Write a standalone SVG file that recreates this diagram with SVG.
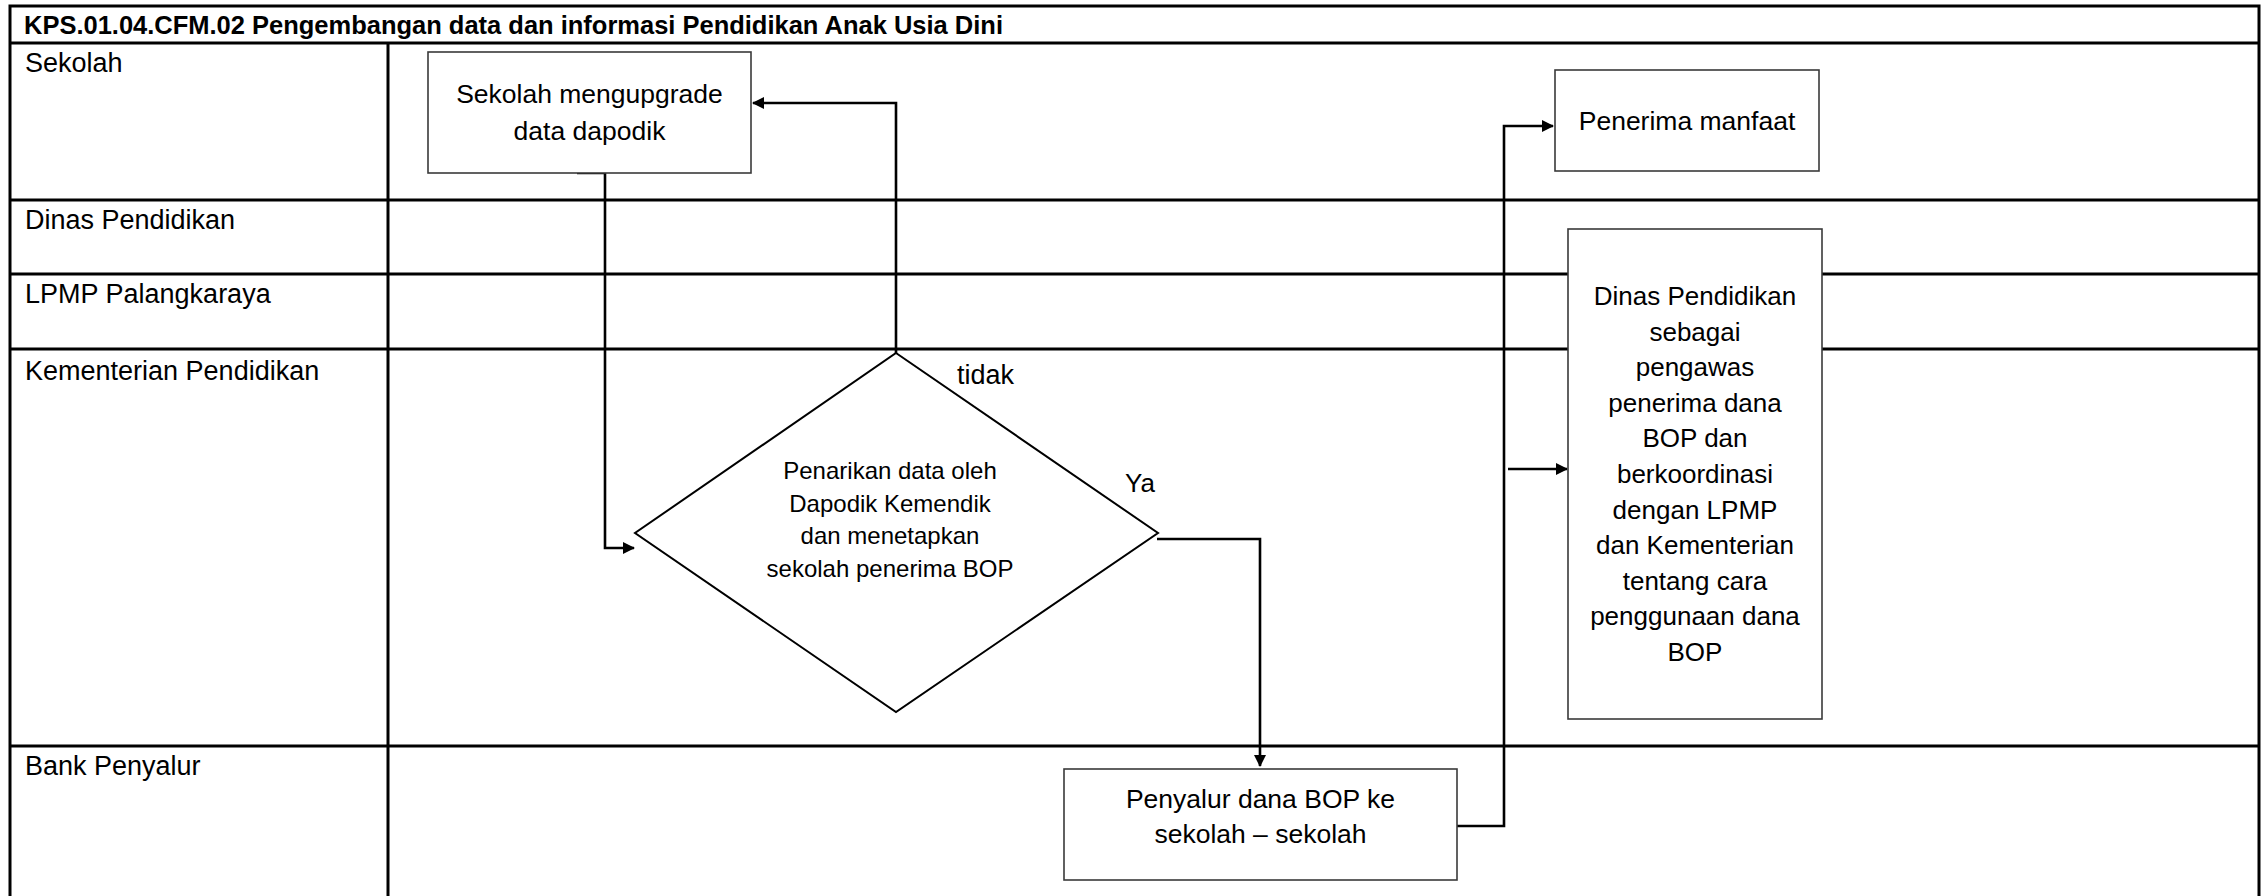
<svg xmlns="http://www.w3.org/2000/svg" width="2264" height="896" viewBox="0 0 2264 896">
<defs>
<style>
.lane{stroke:#000;stroke-width:3;fill:none}
.box{fill:#fff;stroke:#3a3a3a;stroke-width:1.6}
.t{font-family:"Liberation Sans",Arial,sans-serif;fill:#000}
.lbl{font-size:27px}
.nt{font-size:26.5px;text-anchor:middle}
.conn{stroke:#000;stroke-width:2.6;fill:none}
</style>
<marker id="arr" markerWidth="12" markerHeight="12" refX="11" refY="6" orient="auto" markerUnits="userSpaceOnUse">
<path d="M0,0 L12,6 L0,12 z" fill="#000"/>
</marker>
</defs>
<rect width="2264" height="896" fill="#fff"/>
<g id="lanes">
<rect class="lane" x="10" y="6" width="2249" height="900"/>
<line class="lane" x1="10" y1="43" x2="2259" y2="43"/>
<line class="lane" x1="388" y1="43" x2="388" y2="896"/>
<line class="lane" x1="10" y1="200" x2="2259" y2="200"/>
<line class="lane" x1="10" y1="274" x2="2259" y2="274"/>
<line class="lane" x1="10" y1="349" x2="2259" y2="349"/>
<line class="lane" x1="10" y1="746" x2="2259" y2="746"/>
<text class="t" x="24" y="34" font-size="26" font-weight="bold" textLength="979" lengthAdjust="spacingAndGlyphs">KPS.01.04.CFM.02 Pengembangan data dan informasi Pendidikan Anak Usia Dini</text>
<text class="t lbl" x="25" y="72">Sekolah</text>
<text class="t lbl" x="25" y="229">Dinas Pendidikan</text>
<text class="t lbl" x="25" y="303">LPMP Palangkaraya</text>
<text class="t lbl" x="25" y="380">Kementerian Pendidikan</text>
<text class="t lbl" x="25" y="775">Bank Penyalur</text>
</g>
<g id="connectors">
<path class="conn" d="M577,173 H605 V548 H634" marker-end="url(#arr)"/>
<path class="conn" d="M896,353 V103 H753" marker-end="url(#arr)"/>
<path class="conn" d="M1157,539 H1260 V766" marker-end="url(#arr)"/>
<path class="conn" d="M1457,826 H1504 V126 H1553" marker-end="url(#arr)"/>
<path class="conn" d="M1508,469 H1567" marker-end="url(#arr)"/>
<text class="t" x="957" y="384" font-size="27">tidak</text>
<text class="t" x="1125" y="492" font-size="26">Ya</text>
</g>
<g id="node-upgrade">
<rect class="box" x="428" y="52" width="323" height="121"/>
<text class="t nt" x="589.5" y="103">Sekolah mengupgrade</text>
<text class="t nt" x="589.5" y="140">data dapodik</text>
</g>
<g id="node-decision">
<polygon points="896,353 1158,533 896,712 635,533" fill="#fff" stroke="#000" stroke-width="2"/>
<text class="t" font-size="24" text-anchor="middle" x="890" y="479">Penarikan data oleh</text>
<text class="t" font-size="24" text-anchor="middle" x="890" y="512">Dapodik Kemendik</text>
<text class="t" font-size="24" text-anchor="middle" x="890" y="544">dan menetapkan</text>
<text class="t" font-size="24" text-anchor="middle" x="890" y="577">sekolah penerima BOP</text>
</g>
<g id="node-penerima">
<rect class="box" x="1555" y="70" width="264" height="101"/>
<text class="t nt" x="1687" y="130">Penerima manfaat</text>
</g>
<g id="node-dinas">
<rect class="box" x="1568" y="229" width="254" height="490"/>
<text class="t" font-size="26" text-anchor="middle" x="1695" y="305">Dinas Pendidikan</text>
<text class="t" font-size="26" text-anchor="middle" x="1695" y="340.6">sebagai</text>
<text class="t" font-size="26" text-anchor="middle" x="1695" y="376.2">pengawas</text>
<text class="t" font-size="26" text-anchor="middle" x="1695" y="411.8">penerima dana</text>
<text class="t" font-size="26" text-anchor="middle" x="1695" y="447.4">BOP dan</text>
<text class="t" font-size="26" text-anchor="middle" x="1695" y="483">berkoordinasi</text>
<text class="t" font-size="26" text-anchor="middle" x="1695" y="518.6">dengan LPMP</text>
<text class="t" font-size="26" text-anchor="middle" x="1695" y="554.2">dan Kementerian</text>
<text class="t" font-size="26" text-anchor="middle" x="1695" y="589.8">tentang cara</text>
<text class="t" font-size="26" text-anchor="middle" x="1695" y="625.4">penggunaan dana</text>
<text class="t" font-size="26" text-anchor="middle" x="1695" y="661">BOP</text>
</g>
<g id="node-penyalur">
<rect class="box" x="1064" y="769" width="393" height="111"/>
<text class="t nt" x="1260.5" y="808">Penyalur dana BOP ke</text>
<text class="t nt" x="1260.5" y="843">sekolah – sekolah</text>
</g>
</svg>
